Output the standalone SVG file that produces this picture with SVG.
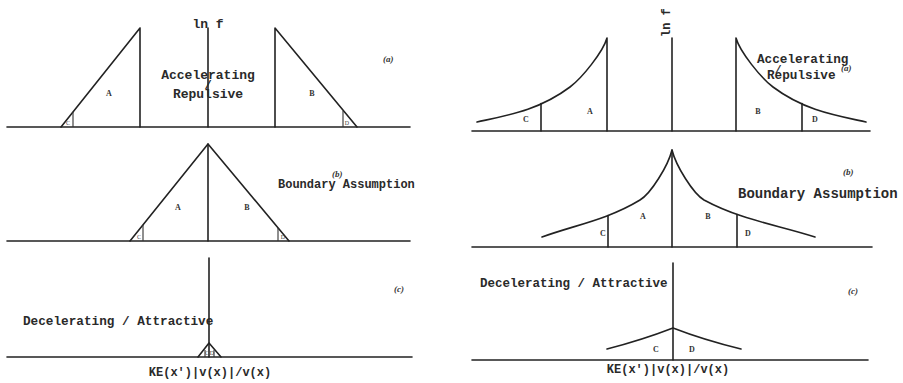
<svg xmlns="http://www.w3.org/2000/svg" width="903" height="383" viewBox="0 0 903 383">
<style>
.ln{fill:none;stroke:#222;stroke-width:1.6;stroke-linejoin:round;stroke-linecap:round}
.thin{fill:none;stroke:#333;stroke-width:1.1}
.t{font-family:"Liberation Mono","Courier New",monospace;fill:#2a2a2a;font-weight:bold}
.lab{font-family:"Liberation Serif","Times New Roman",serif;fill:#333;font-weight:bold;font-size:8px;text-anchor:middle}
.tiny{font-family:"Liberation Serif",serif;fill:#444;font-size:6px;text-anchor:middle}
.pl{font-family:"Liberation Serif","Times New Roman",serif;fill:#333;font-style:italic;font-weight:bold;font-size:9px}
</style>
<defs>
<path id="accL" d="M477,122 C508,115.2 539,110.3 570,87 C582,78 603,52 607,38 L607,131"/>
</defs>
<rect width="903" height="383" fill="#fff"/>

<g id="left-a">
<line class="ln" x1="7" y1="127" x2="410" y2="127"/>
<line class="ln" x1="208" y1="28" x2="208" y2="127"/>
<polyline class="ln" points="61,127 140,28 140,127"/>
<polyline class="ln" points="357,127 275,28 275,127"/>
<line class="thin" x1="73" y1="112" x2="73" y2="127"/>
<line class="thin" x1="343" y1="111" x2="343" y2="127"/>
<text class="tiny" x="68" y="125">C</text>
<text class="tiny" x="347" y="125">D</text>
<text class="lab" x="109" y="96">A</text>
<text class="lab" x="312" y="96">B</text>
<text class="t" x="208" y="28" font-size="13" text-anchor="middle">ln f</text>
<text class="t" x="208" y="79" font-size="13" text-anchor="middle">Accelerating</text>
<text class="t" x="208" y="89" font-size="12" text-anchor="middle">/</text>
<text class="t" x="208" y="98" font-size="13" text-anchor="middle">Repulsive</text>
<text class="pl" x="383" y="62">(a)</text>
</g>

<g id="left-b">
<line class="ln" x1="7" y1="241" x2="410" y2="241"/>
<polyline class="ln" points="130,241 208,144 289,241"/>
<line class="ln" x1="208" y1="144" x2="208" y2="241"/>
<line class="thin" x1="143" y1="225" x2="143" y2="241"/>
<line class="thin" x1="278" y1="228" x2="278" y2="241"/>
<text class="tiny" x="139" y="239">C</text>
<text class="tiny" x="283" y="239">D</text>
<text class="lab" x="178" y="210">A</text>
<text class="lab" x="247" y="210">B</text>
<text class="pl" x="332" y="177">(b)</text>
<text class="t" x="278" y="188" font-size="12">Boundary Assumption</text>
</g>

<g id="left-c">
<line class="ln" x1="7" y1="357" x2="412" y2="357"/>
<line class="ln" x1="209" y1="258" x2="209" y2="357"/>
<polyline class="ln" points="198,357 209,343 221,357"/>
<line class="thin" x1="205" y1="350" x2="205" y2="357"/>
<line class="thin" x1="214" y1="350" x2="214" y2="357"/>
<text class="tiny" x="207" y="355">C</text>
<text class="tiny" x="212" y="355">D</text>
<text class="t" x="23" y="325" font-size="12.7">Decelerating / Attractive</text>
<text class="pl" x="394" y="292">(c)</text>
<text class="t" x="210" y="376" font-size="12" text-anchor="middle">KE(x')|v(x)|/v(x)</text>
</g>

<g id="right-a">
<line class="ln" x1="472" y1="131" x2="870" y2="131"/>
<line class="ln" x1="672" y1="38" x2="672" y2="131"/>
<use href="#accL" class="ln"/>
<line class="ln" x1="541" y1="103.5" x2="541" y2="131"/>
<g transform="translate(1343,0) scale(-1,1)">
<use href="#accL" class="ln"/>
<line class="ln" x1="541" y1="103.5" x2="541" y2="131"/>
</g>
<text class="lab" x="526" y="122">C</text>
<text class="lab" x="590" y="114">A</text>
<text class="lab" x="758" y="114">B</text>
<text class="lab" x="815" y="122">D</text>
<text class="t" transform="translate(670,37) rotate(-90)" font-size="12">ln f</text>
<text class="t" x="757" y="63" font-size="12.7">Accelerating</text>
<text class="t" x="775" y="73" font-size="11">/</text>
<text class="t" x="767" y="79" font-size="12.7">Repulsive</text>
<text class="pl" x="841" y="71">(a)</text>
</g>

<g id="right-b">
<line class="ln" x1="472" y1="247" x2="872" y2="247"/>
<line class="ln" x1="672" y1="150" x2="672" y2="247"/>
<path class="ln" d="M542,237 C575,225 607,220 640,200 C651,193.4 668,166 672,150 C676,166 693,193.4 704,200 C741,220 778,225 815,237"/>
<line class="ln" x1="608" y1="215.5" x2="608" y2="247"/>
<line class="ln" x1="737" y1="214.5" x2="737" y2="247"/>
<text class="lab" x="603" y="236">C</text>
<text class="lab" x="643" y="219">A</text>
<text class="lab" x="708" y="219">B</text>
<text class="lab" x="748" y="236">D</text>
<text class="pl" x="843" y="175">(b)</text>
<text class="t" x="738" y="198" font-size="14">Boundary Assumption</text>
</g>

<g id="right-c">
<line class="ln" x1="472" y1="360" x2="868" y2="360"/>
<line class="ln" x1="673" y1="263" x2="673" y2="360"/>
<path class="ln" d="M607,349 Q642,340 673,328 Q704,340 741,349"/>
<text class="lab" x="656" y="352">C</text>
<text class="lab" x="692" y="352">D</text>
<text class="t" x="480" y="287" font-size="12.5">Decelerating / Attractive</text>
<text class="pl" x="848" y="294">(c)</text>
<text class="t" x="668" y="373" font-size="12" text-anchor="middle">KE(x')|v(x)|/v(x)</text>
</g>
</svg>
